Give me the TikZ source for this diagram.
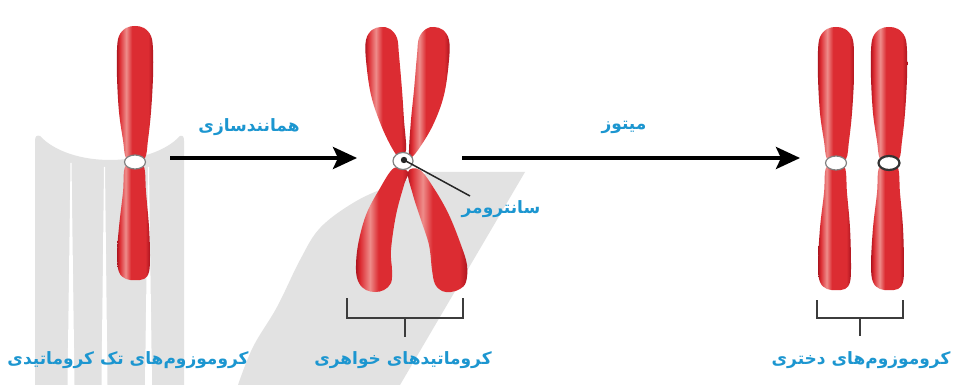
\documentclass[tikz,border=0pt]{standalone}
\usepackage{fontspec}
\newfontfamily\fa[Script=Arabic]{DejaVu Sans}
\TeXXeTstate=1
\usetikzlibrary{arrows.meta}

\definecolor{chromdark}{RGB}{172,20,30}
\definecolor{chromred}{RGB}{220,44,50}
\definecolor{chromlight}{RGB}{238,140,138}
\definecolor{labelblue}{RGB}{28,150,208}
\definecolor{wmgray}{RGB}{226,226,226}
\definecolor{inkgray}{RGB}{60,60,60}

% rod-like colouring with a pale streak a little left of the middle
\pgfdeclarehorizontalshading{rodshade}{100bp}{color(0bp)=(chromdark); color(25bp)=(chromdark); color(29bp)=(chromred); color(38bp)=(chromlight); color(46bp)=(chromred); color(68bp)=(chromred); color(75bp)=(chromdark); color(100bp)=(chromdark)}

\tikzset{
  rod low/.store in=\rodlow, rod low=125,
  rod ring/.store in=\rodring, rod ring=gray,
  rod ring width/.store in=\rodringw, rod ring width=1.2pt,
  arm/.style={shading=rodshade},
  % one chromosome of a single chromatid, centromere at the origin
  rod/.pic={
    \path[arm] plot[smooth cycle, tension=0.6] coordinates {
      (-9,-4) (-12,-22) (-16,-50) (-18,-85) (-18,-112) (-16,-126) (-9,-134) (0,-136)
      (9,-134) (16,-126) (18,-112) (18,-85) (16,-50) (13,-22) (10,-4) (0,-1)};
    \path[arm] plot[smooth cycle, tension=0.6] coordinates {
      (-10,5) (-12,30) (-16,65) (-18,{\rodlow-25}) (-16,{\rodlow-8}) (-9,{\rodlow-1}) (0,\rodlow)
      (9,{\rodlow-1}) (14,{\rodlow-8}) (15,{\rodlow-25}) (14,65) (11,30) (9,5) (0,2)};
    \filldraw[fill=white, draw=\rodring, line width=\rodringw] (0,0) ellipse [x radius=10.5, y radius=7];
  },
  label/.style={text=labelblue, font=\fa\bfseries\fontsize{17}{20}\selectfont, inner sep=0pt},
  bigarrow/.style={line width=4pt, -{Stealth[length=24pt, width=22pt, inset=5pt]}},
  bracket/.style={draw=inkgray, line width=2.4pt},
  wm/.style={fill=wmgray}
}

\begin{document}
\begin{tikzpicture}[x=1pt, y=-1pt]
\useasboundingbox (0,0) rectangle (959,385);
\fill[white] (0,0) rectangle (959,385);

% ---- pale logo mark in the background ----
\fill[wm] (35,385) -- (35,141) .. controls (35,136) and (37,135) .. (40,136)
  .. controls (70,168) and (150,168) .. (180,136)
  .. controls (183,135) and (184,137) .. (184,141) -- (184,385) -- cycle;
\fill[white] (70.5,163) -- (71.5,163) -- (74.5,385) -- (67.5,385) -- cycle;
\fill[white] (104,167) -- (105,167) -- (107.5,385) -- (101.5,385) -- cycle;
\fill[white] (148,167) -- (149,167) -- (152,385) -- (145,385) -- cycle;
\fill[wm] plot[smooth, tension=0.6] coordinates {(238,385) (253,347) (277,307) (300,260) (320,228) (353,203) (387,187) (430,172)}
  -- (525,172) -- (400,385) -- cycle;

% ---- single-chromatid chromosome ----
\pic[rod low=118] at (135,162) {rod};
\coordinate (c1) at (135,162);

% ---- duplicated chromosome (two sister chromatids) ----
\path[arm] plot[smooth cycle, tension=0.6] coordinates {
  (406,150) (404,120) (402,90) (399,55) (397,38) (390,29) (381,27) (372,30)
  (366,40) (366,60) (371,95) (381,125) (392,148) (400,158)};
\path[arm] plot[smooth cycle, tension=0.6] coordinates {
  (409,150) (411,120) (414,90) (417,55) (419,38) (426,29) (434,27) (443,30)
  (449,40) (449,60) (444,95) (433,125) (418,150) (410,158)};
\path[arm] plot[smooth cycle, tension=0.6] coordinates {
  (394,168) (379,190) (366,215) (358,245) (356,270) (359,283) (366,290) (375,292)
  (384,290) (391,283) (392,270) (391,250) (396,215) (404,185) (408,172)};
\path[arm] plot[smooth cycle, tension=0.6] coordinates {
  (408,172) (413,195) (421,220) (429,245) (432,270) (435,284) (442,291) (451,292)
  (460,289) (466,282) (467,265) (461,245) (449,215) (435,190) (420,170)};
\filldraw[fill=white, draw=gray, line width=1.2pt] (403,161) ellipse [x radius=10, y radius=8.5];
\fill[black!85] (404,160) circle [radius=3.2];
\coordinate (c2) at (404,160);

% ---- daughter chromosomes ----
\pic[rod low=127] at (836,163) {rod};
\pic[rod low=127, rod ring=black!80, rod ring width=2.2pt] at (889,163) {rod};

% ---- arrows and their labels ----
\coordinate (a1s) at (170,158);
\coordinate (a1e) at (357,158);
\coordinate (a2s) at (462,158);
\coordinate (a2e) at (800,158);
\draw[bigarrow] (a1s) -- (a1e);
\draw[bigarrow] (a2s) -- (a2e);
\node[label] (lrep) at (249,127) {\beginR همانندسازی\endR};
\node[label] (lmit) at (624,127) {\beginR میتوز\endR};

% ---- centromere pointer ----
\node[label] (lcen) at (501,209) {\beginR سانترومر\endR};
\coordinate (pend) at (470,196);
\draw[black!85, line width=1.5pt] (c2) -- (pend);

% ---- brackets ----
\draw[bracket] (347,298) -- (347,318) -- (463,318) -- (463,298);
\draw[bracket] (405,318) -- (405,337);
\draw[bracket] (817,300) -- (817,318) -- (903,318) -- (903,300);
\draw[bracket] (860,318) -- (860,336);

% ---- bottom labels ----
\node[label] (l1) at (128,360) {\beginR کروموزوم‌های تک کروماتیدی\endR};
\node[label] (l2) at (403,360) {\beginR کروماتیدهای خواهری\endR};
\node[label] (l3) at (861,360) {\beginR کروموزوم‌های دختری\endR};
\end{tikzpicture}
\end{document}
